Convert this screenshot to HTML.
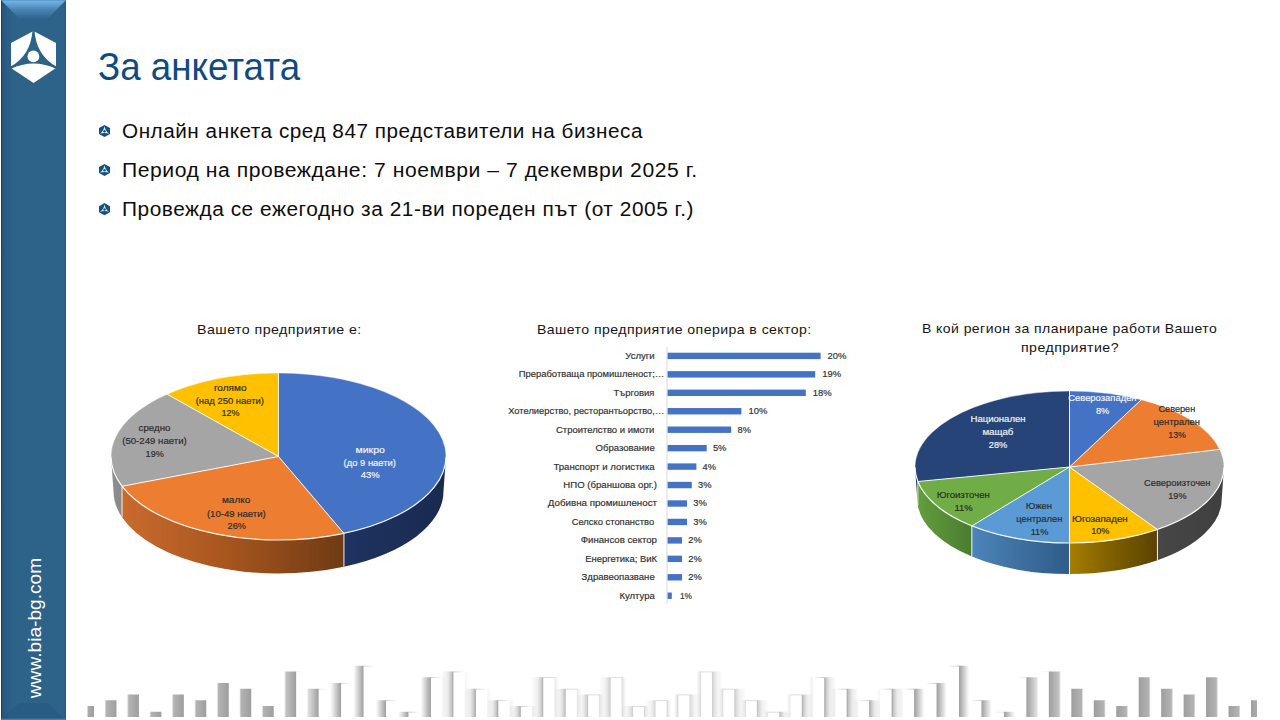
<!DOCTYPE html>
<html lang="bg"><head><meta charset="utf-8"><title>За анкетата</title>
<style>
html,body{margin:0;padding:0;background:#fff;}
body{width:1280px;height:720px;position:relative;overflow:hidden;font-family:"Liberation Sans", sans-serif;}
.side{position:absolute;left:1px;top:0;width:65px;height:720px;background:linear-gradient(to right,#25527a 0,#2a5c83 5px,#2d6289 13px,#2d6289 62px,#2a5e85 65px);}
.side .bev{position:absolute;left:0;top:0;width:65px;height:20px;}
.side .ledge{position:absolute;left:0;top:0;width:1.2px;height:720px;background:#1e4362;}
.side .redge{position:absolute;right:0;top:0;width:0.8px;height:720px;background:#27587f;}
.tx{position:absolute;margin:0;padding:0;font-weight:normal;line-height:1;white-space:nowrap;transform-origin:0 0;}
ul{list-style:none;margin:0;padding:0;}
</style></head>
<body>
<div class="side"><div class="ledge"></div><div class="redge"></div>
<svg class="bev" width="65" height="20" viewBox="0 0 65 20"><defs><linearGradient id="bv" x1="0" y1="0" x2="0" y2="1"><stop offset="0" stop-color="#4f8fc2"/><stop offset="0.06" stop-color="#72b2e4"/><stop offset="0.5" stop-color="#4a83b3"/><stop offset="1" stop-color="#2d6289"/></linearGradient></defs><polygon points="0,0 65,0 46,19.5 19,19.5" fill="url(#bv)"/></svg>
<svg style="position:absolute;left:0;top:700px" width="65" height="20" viewBox="0 0 65 20"><polygon points="0,20 65,20 47,3 18,3" fill="#1e4f78" opacity="0.28"/><rect x="0" y="18.6" width="65" height="1.4" fill="#5a92bd" opacity="0.7"/></svg>
<svg style="position:absolute;left:8px;top:28px" width="50" height="58" viewBox="0 0 50 58">
<polygon points="24.5,3 47,15 47,40 24.5,55 2,40 2,15" fill="#fff"/>
<path d="M23.6,2 L25.4,2 Q27.2,27.5 47.5,38.6 L47.5,41 Q24.5,30 1.5,41 L1.5,38.6 Q21.8,27.5 23.6,2 Z" fill="#2d6289"/>
<circle cx="24.4" cy="28.4" r="5.9" fill="#fff"/>
</svg>
</div>
<h1 id="ttl" class="tx" style="left:98.04px;top:48.26px;font-size:38.2px;letter-spacing:0px;color:#0f4b80;transform:scaleX(0.9618)">За анкетата</h1>
<ul><li id="b1" class="tx" style="left:121.94px;top:121.99px;font-size:19.5px;letter-spacing:0.5px;color:#0d0d0d;transform:scaleX(1.0619)">Онлайн анкета сред 847 представители на бизнеса</li>
<li id="b2" class="tx" style="left:121.92px;top:160.99px;font-size:19.5px;letter-spacing:0.5px;color:#0d0d0d;transform:scaleX(1.0834)">Период на провеждане: 7 ноември – 7 декември 2025 г.</li>
<li id="b3" class="tx" style="left:121.93px;top:199.99px;font-size:19.5px;letter-spacing:0.5px;color:#0d0d0d;transform:scaleX(1.0689)">Провежда се ежегодно за 21-ви пореден път (от 2005 г.)</li></ul>
<div id="c1" class="tx" style="left:196.96px;top:323.33px;font-size:13.2px;letter-spacing:0.4px;color:#151515;transform:scaleX(1.0795)">Вашето предприятие е:</div>
<div id="c2" class="tx" style="left:536.96px;top:323.33px;font-size:13.2px;letter-spacing:0.4px;color:#151515;transform:scaleX(1.0686)">Вашето предприятие оперира в сектор:</div>
<div id="c3a" class="tx" style="left:921.98px;top:322.23px;font-size:13.2px;letter-spacing:0.4px;color:#151515;transform:scaleX(1.0638)">В кой регион за планиране работи Вашето</div>
<div id="c3b" class="tx" style="left:1020.96px;top:341.33px;font-size:13.2px;letter-spacing:0.4px;color:#151515;transform:scaleX(1.0756)">предприятие?</div>
<svg width="1280" height="720" viewBox="0 0 1280 720" style="position:absolute;left:0;top:0" font-family='"Liberation Sans", sans-serif'>
<defs>
<linearGradient id="p1s0" gradientUnits="userSpaceOnUse" x1="344" y1="0" x2="446" y2="0"><stop offset="0" stop-color="#1f3361"/><stop offset="1" stop-color="#192a4f"/></linearGradient>
<linearGradient id="p1s1" gradientUnits="userSpaceOnUse" x1="122" y1="0" x2="344" y2="0"><stop offset="0" stop-color="#c96a2e"/><stop offset="0.45" stop-color="#a9571f"/><stop offset="1" stop-color="#6f3a13"/></linearGradient>
<linearGradient id="p1s2" gradientUnits="userSpaceOnUse" x1="111" y1="0" x2="122" y2="0"><stop offset="0" stop-color="#8f8f8f"/><stop offset="1" stop-color="#898989"/></linearGradient>
<linearGradient id="p2s2" gradientUnits="userSpaceOnUse" x1="1157" y1="0" x2="1224" y2="0"><stop offset="0" stop-color="#474747"/><stop offset="1" stop-color="#3f3f3f"/></linearGradient>
<linearGradient id="p2s3" gradientUnits="userSpaceOnUse" x1="1069" y1="0" x2="1157" y2="0"><stop offset="0" stop-color="#a67e00"/><stop offset="0.5" stop-color="#7d5e00"/><stop offset="1" stop-color="#5a4300"/></linearGradient>
<linearGradient id="p2s4" gradientUnits="userSpaceOnUse" x1="972" y1="0" x2="1069" y2="0"><stop offset="0" stop-color="#4c84ba"/><stop offset="0.5" stop-color="#3d6f9f"/><stop offset="1" stop-color="#2f5c88"/></linearGradient>
<linearGradient id="p2s5" gradientUnits="userSpaceOnUse" x1="915" y1="0" x2="972" y2="0"><stop offset="0" stop-color="#639f3e"/><stop offset="1" stop-color="#4a7c2e"/></linearGradient>
<linearGradient id="p2s6" gradientUnits="userSpaceOnUse" x1="910" y1="0" x2="920" y2="0"><stop offset="0" stop-color="#1b2f55"/><stop offset="1" stop-color="#1b2f55"/></linearGradient>
<linearGradient id="sk0" x1="0" x2="1" y1="0" y2="0"><stop offset="0" stop-color="#9e9e9e" stop-opacity="0.85"/><stop offset="1" stop-color="#9e9e9e" stop-opacity="1.00"/></linearGradient>
<linearGradient id="sk1" x1="0" x2="1" y1="0" y2="0"><stop offset="0" stop-color="#9e9e9e" stop-opacity="0.00"/><stop offset="0.15" stop-color="#9e9e9e" stop-opacity="0.78"/><stop offset="1" stop-color="#9e9e9e" stop-opacity="1.00"/></linearGradient>
<linearGradient id="sk2" x1="0" x2="1" y1="0" y2="0"><stop offset="0" stop-color="#9e9e9e" stop-opacity="0.00"/><stop offset="0.15" stop-color="#9e9e9e" stop-opacity="0.78"/><stop offset="1" stop-color="#9e9e9e" stop-opacity="1.00"/></linearGradient>
<linearGradient id="sk3" x1="0" x2="1" y1="0" y2="0"><stop offset="0" stop-color="#9e9e9e" stop-opacity="0.00"/><stop offset="0.15" stop-color="#9e9e9e" stop-opacity="0.78"/><stop offset="1" stop-color="#9e9e9e" stop-opacity="1.00"/></linearGradient>
<linearGradient id="sk4" x1="0" x2="1" y1="0" y2="0"><stop offset="0" stop-color="#9e9e9e" stop-opacity="0.00"/><stop offset="0.15" stop-color="#9e9e9e" stop-opacity="0.78"/><stop offset="1" stop-color="#9e9e9e" stop-opacity="1.00"/></linearGradient>
<linearGradient id="sk5" x1="0" x2="1" y1="0" y2="0"><stop offset="0" stop-color="#9e9e9e" stop-opacity="0.00"/><stop offset="0.15" stop-color="#9e9e9e" stop-opacity="0.78"/><stop offset="1" stop-color="#9e9e9e" stop-opacity="1.00"/></linearGradient>
<linearGradient id="sk6" x1="0" x2="1" y1="0" y2="0"><stop offset="0" stop-color="#9e9e9e" stop-opacity="0.00"/><stop offset="0.15" stop-color="#9e9e9e" stop-opacity="0.78"/><stop offset="1" stop-color="#9e9e9e" stop-opacity="1.00"/></linearGradient>
<linearGradient id="sk7" x1="0" x2="1" y1="0" y2="0"><stop offset="0" stop-color="#9e9e9e" stop-opacity="0.00"/><stop offset="0.15" stop-color="#9e9e9e" stop-opacity="0.78"/><stop offset="1" stop-color="#9e9e9e" stop-opacity="1.00"/></linearGradient>
<linearGradient id="sk8" x1="0" x2="1" y1="0" y2="0"><stop offset="0" stop-color="#9e9e9e" stop-opacity="0.00"/><stop offset="0.15" stop-color="#9e9e9e" stop-opacity="0.78"/><stop offset="1" stop-color="#9e9e9e" stop-opacity="1.00"/></linearGradient>
<linearGradient id="sk9" x1="0" x2="1" y1="0" y2="0"><stop offset="0" stop-color="#9e9e9e" stop-opacity="0.00"/><stop offset="0.15" stop-color="#9e9e9e" stop-opacity="0.62"/><stop offset="1" stop-color="#9e9e9e" stop-opacity="1.00"/></linearGradient>
<linearGradient id="sk10" x1="0" x2="1" y1="0" y2="0"><stop offset="0" stop-color="#9e9e9e" stop-opacity="0.00"/><stop offset="0.15" stop-color="#9e9e9e" stop-opacity="0.34"/><stop offset="1" stop-color="#9e9e9e" stop-opacity="1.00"/></linearGradient>
<linearGradient id="sk11" x1="0" x2="1" y1="0" y2="0"><stop offset="0" stop-color="#9e9e9e" stop-opacity="0.00"/><stop offset="0.15" stop-color="#9e9e9e" stop-opacity="0.06"/><stop offset="1" stop-color="#9e9e9e" stop-opacity="1.00"/></linearGradient>
<linearGradient id="sk12" x1="0" x2="1" y1="0" y2="0"><stop offset="0" stop-color="#9e9e9e" stop-opacity="0.00"/><stop offset="0.15" stop-color="#9e9e9e" stop-opacity="0.00"/><stop offset="1" stop-color="#9e9e9e" stop-opacity="1.00"/></linearGradient>
<linearGradient id="sk13" x1="0" x2="1" y1="0" y2="0"><stop offset="0" stop-color="#9e9e9e" stop-opacity="0.00"/><stop offset="0.15" stop-color="#9e9e9e" stop-opacity="0.00"/><stop offset="1" stop-color="#9e9e9e" stop-opacity="1.00"/></linearGradient>
<linearGradient id="sk14" x1="0" x2="1" y1="0" y2="0"><stop offset="0" stop-color="#9e9e9e" stop-opacity="0.00"/><stop offset="0.15" stop-color="#9e9e9e" stop-opacity="0.00"/><stop offset="1" stop-color="#9e9e9e" stop-opacity="1.00"/></linearGradient>
<linearGradient id="sk15" x1="0" x2="1" y1="0" y2="0"><stop offset="0" stop-color="#9e9e9e" stop-opacity="0.00"/><stop offset="0.15" stop-color="#9e9e9e" stop-opacity="0.00"/><stop offset="1" stop-color="#9e9e9e" stop-opacity="1.00"/></linearGradient>
<linearGradient id="sk16" x1="0" x2="1" y1="0" y2="0"><stop offset="0" stop-color="#9e9e9e" stop-opacity="0.00"/><stop offset="0.55" stop-color="#9e9e9e" stop-opacity="0.22"/><stop offset="0.85" stop-color="#9e9e9e" stop-opacity="0.60"/><stop offset="1" stop-color="#9e9e9e" stop-opacity="1.00"/></linearGradient>
<linearGradient id="sk17" x1="0" x2="1" y1="0" y2="0"><stop offset="0" stop-color="#9e9e9e" stop-opacity="0.00"/><stop offset="0.55" stop-color="#9e9e9e" stop-opacity="0.22"/><stop offset="0.85" stop-color="#9e9e9e" stop-opacity="0.60"/><stop offset="1" stop-color="#9e9e9e" stop-opacity="1.00"/></linearGradient>
<linearGradient id="sk18" x1="0" x2="1" y1="0" y2="0"><stop offset="0" stop-color="#9e9e9e" stop-opacity="0.00"/><stop offset="0.55" stop-color="#9e9e9e" stop-opacity="0.22"/><stop offset="0.85" stop-color="#9e9e9e" stop-opacity="0.60"/><stop offset="1" stop-color="#9e9e9e" stop-opacity="1.00"/></linearGradient>
<linearGradient id="sk19" x1="0" x2="1" y1="0" y2="0"><stop offset="0" stop-color="#9e9e9e" stop-opacity="0.00"/><stop offset="0.55" stop-color="#9e9e9e" stop-opacity="0.21"/><stop offset="0.85" stop-color="#9e9e9e" stop-opacity="0.57"/><stop offset="1" stop-color="#9e9e9e" stop-opacity="0.95"/></linearGradient>
<linearGradient id="sk20" x1="0" x2="1" y1="0" y2="0"><stop offset="0" stop-color="#9e9e9e" stop-opacity="0.00"/><stop offset="0.55" stop-color="#9e9e9e" stop-opacity="0.19"/><stop offset="0.85" stop-color="#9e9e9e" stop-opacity="0.52"/><stop offset="1" stop-color="#9e9e9e" stop-opacity="0.87"/></linearGradient>
<linearGradient id="sk21" x1="0" x2="1" y1="0" y2="0"><stop offset="0" stop-color="#9e9e9e" stop-opacity="0.00"/><stop offset="0.55" stop-color="#9e9e9e" stop-opacity="0.17"/><stop offset="0.85" stop-color="#9e9e9e" stop-opacity="0.47"/><stop offset="1" stop-color="#9e9e9e" stop-opacity="0.79"/></linearGradient>
<linearGradient id="sk22" x1="0" x2="1" y1="0" y2="0"><stop offset="0" stop-color="#9e9e9e" stop-opacity="0.00"/><stop offset="0.55" stop-color="#9e9e9e" stop-opacity="0.15"/><stop offset="0.85" stop-color="#9e9e9e" stop-opacity="0.42"/><stop offset="1" stop-color="#9e9e9e" stop-opacity="0.70"/></linearGradient>
<linearGradient id="sk23" x1="0" x2="1" y1="0" y2="0"><stop offset="0" stop-color="#9e9e9e" stop-opacity="0.00"/><stop offset="0.55" stop-color="#9e9e9e" stop-opacity="0.14"/><stop offset="0.85" stop-color="#9e9e9e" stop-opacity="0.37"/><stop offset="1" stop-color="#9e9e9e" stop-opacity="0.62"/></linearGradient>
<linearGradient id="sk24" x1="0" x2="1" y1="0" y2="0"><stop offset="0" stop-color="#9e9e9e" stop-opacity="0.00"/><stop offset="0.55" stop-color="#9e9e9e" stop-opacity="0.12"/><stop offset="0.85" stop-color="#9e9e9e" stop-opacity="0.33"/><stop offset="1" stop-color="#9e9e9e" stop-opacity="0.54"/></linearGradient>
<linearGradient id="sk25" x1="0" x2="1" y1="0" y2="0"><stop offset="0" stop-color="#9e9e9e" stop-opacity="0.00"/><stop offset="0.55" stop-color="#9e9e9e" stop-opacity="0.10"/><stop offset="0.85" stop-color="#9e9e9e" stop-opacity="0.28"/><stop offset="1" stop-color="#9e9e9e" stop-opacity="0.46"/></linearGradient>
<linearGradient id="sk26" x1="0" x2="1" y1="0" y2="0"><stop offset="0" stop-color="#9e9e9e" stop-opacity="0.46"/><stop offset="0.15" stop-color="#9e9e9e" stop-opacity="0.28"/><stop offset="0.45" stop-color="#9e9e9e" stop-opacity="0.10"/><stop offset="1" stop-color="#9e9e9e" stop-opacity="0.00"/></linearGradient>
<linearGradient id="sk27" x1="0" x2="1" y1="0" y2="0"><stop offset="0" stop-color="#9e9e9e" stop-opacity="0.54"/><stop offset="0.15" stop-color="#9e9e9e" stop-opacity="0.33"/><stop offset="0.45" stop-color="#9e9e9e" stop-opacity="0.12"/><stop offset="1" stop-color="#9e9e9e" stop-opacity="0.00"/></linearGradient>
<linearGradient id="sk28" x1="0" x2="1" y1="0" y2="0"><stop offset="0" stop-color="#9e9e9e" stop-opacity="0.62"/><stop offset="0.15" stop-color="#9e9e9e" stop-opacity="0.37"/><stop offset="0.45" stop-color="#9e9e9e" stop-opacity="0.14"/><stop offset="1" stop-color="#9e9e9e" stop-opacity="0.00"/></linearGradient>
<linearGradient id="sk29" x1="0" x2="1" y1="0" y2="0"><stop offset="0" stop-color="#9e9e9e" stop-opacity="0.70"/><stop offset="0.15" stop-color="#9e9e9e" stop-opacity="0.42"/><stop offset="0.45" stop-color="#9e9e9e" stop-opacity="0.15"/><stop offset="1" stop-color="#9e9e9e" stop-opacity="0.00"/></linearGradient>
<linearGradient id="sk30" x1="0" x2="1" y1="0" y2="0"><stop offset="0" stop-color="#9e9e9e" stop-opacity="0.79"/><stop offset="0.15" stop-color="#9e9e9e" stop-opacity="0.47"/><stop offset="0.45" stop-color="#9e9e9e" stop-opacity="0.17"/><stop offset="1" stop-color="#9e9e9e" stop-opacity="0.00"/></linearGradient>
<linearGradient id="sk31" x1="0" x2="1" y1="0" y2="0"><stop offset="0" stop-color="#9e9e9e" stop-opacity="0.87"/><stop offset="0.15" stop-color="#9e9e9e" stop-opacity="0.52"/><stop offset="0.45" stop-color="#9e9e9e" stop-opacity="0.19"/><stop offset="1" stop-color="#9e9e9e" stop-opacity="0.00"/></linearGradient>
<linearGradient id="sk32" x1="0" x2="1" y1="0" y2="0"><stop offset="0" stop-color="#9e9e9e" stop-opacity="0.95"/><stop offset="0.15" stop-color="#9e9e9e" stop-opacity="0.57"/><stop offset="0.45" stop-color="#9e9e9e" stop-opacity="0.21"/><stop offset="1" stop-color="#9e9e9e" stop-opacity="0.00"/></linearGradient>
<linearGradient id="sk33" x1="0" x2="1" y1="0" y2="0"><stop offset="0" stop-color="#9e9e9e" stop-opacity="1.00"/><stop offset="0.15" stop-color="#9e9e9e" stop-opacity="0.60"/><stop offset="0.45" stop-color="#9e9e9e" stop-opacity="0.22"/><stop offset="1" stop-color="#9e9e9e" stop-opacity="0.00"/></linearGradient>
<linearGradient id="sk34" x1="0" x2="1" y1="0" y2="0"><stop offset="0" stop-color="#9e9e9e" stop-opacity="1.00"/><stop offset="0.15" stop-color="#9e9e9e" stop-opacity="0.60"/><stop offset="0.45" stop-color="#9e9e9e" stop-opacity="0.22"/><stop offset="1" stop-color="#9e9e9e" stop-opacity="0.00"/></linearGradient>
<linearGradient id="sk35" x1="0" x2="1" y1="0" y2="0"><stop offset="0" stop-color="#9e9e9e" stop-opacity="1.00"/><stop offset="0.15" stop-color="#9e9e9e" stop-opacity="0.60"/><stop offset="0.45" stop-color="#9e9e9e" stop-opacity="0.22"/><stop offset="1" stop-color="#9e9e9e" stop-opacity="0.00"/></linearGradient>
<linearGradient id="sk36" x1="0" x2="1" y1="0" y2="0"><stop offset="0" stop-color="#9e9e9e" stop-opacity="1.00"/><stop offset="0.85" stop-color="#9e9e9e" stop-opacity="0.00"/><stop offset="1" stop-color="#9e9e9e" stop-opacity="0.00"/></linearGradient>
<linearGradient id="sk37" x1="0" x2="1" y1="0" y2="0"><stop offset="0" stop-color="#9e9e9e" stop-opacity="1.00"/><stop offset="0.85" stop-color="#9e9e9e" stop-opacity="0.00"/><stop offset="1" stop-color="#9e9e9e" stop-opacity="0.00"/></linearGradient>
<linearGradient id="sk38" x1="0" x2="1" y1="0" y2="0"><stop offset="0" stop-color="#9e9e9e" stop-opacity="1.00"/><stop offset="0.85" stop-color="#9e9e9e" stop-opacity="0.00"/><stop offset="1" stop-color="#9e9e9e" stop-opacity="0.00"/></linearGradient>
<linearGradient id="sk39" x1="0" x2="1" y1="0" y2="0"><stop offset="0" stop-color="#9e9e9e" stop-opacity="1.00"/><stop offset="0.85" stop-color="#9e9e9e" stop-opacity="0.00"/><stop offset="1" stop-color="#9e9e9e" stop-opacity="0.00"/></linearGradient>
<linearGradient id="sk40" x1="0" x2="1" y1="0" y2="0"><stop offset="0" stop-color="#9e9e9e" stop-opacity="1.00"/><stop offset="0.85" stop-color="#9e9e9e" stop-opacity="0.06"/><stop offset="1" stop-color="#9e9e9e" stop-opacity="0.00"/></linearGradient>
<linearGradient id="sk41" x1="0" x2="1" y1="0" y2="0"><stop offset="0" stop-color="#9e9e9e" stop-opacity="1.00"/><stop offset="0.85" stop-color="#9e9e9e" stop-opacity="0.34"/><stop offset="1" stop-color="#9e9e9e" stop-opacity="0.00"/></linearGradient>
<linearGradient id="sk42" x1="0" x2="1" y1="0" y2="0"><stop offset="0" stop-color="#9e9e9e" stop-opacity="1.00"/><stop offset="0.85" stop-color="#9e9e9e" stop-opacity="0.62"/><stop offset="1" stop-color="#9e9e9e" stop-opacity="0.00"/></linearGradient>
<linearGradient id="sk43" x1="0" x2="1" y1="0" y2="0"><stop offset="0" stop-color="#9e9e9e" stop-opacity="1.00"/><stop offset="0.85" stop-color="#9e9e9e" stop-opacity="0.78"/><stop offset="1" stop-color="#9e9e9e" stop-opacity="0.00"/></linearGradient>
<linearGradient id="sk44" x1="0" x2="1" y1="0" y2="0"><stop offset="0" stop-color="#9e9e9e" stop-opacity="1.00"/><stop offset="0.85" stop-color="#9e9e9e" stop-opacity="0.78"/><stop offset="1" stop-color="#9e9e9e" stop-opacity="0.00"/></linearGradient>
<linearGradient id="sk45" x1="0" x2="1" y1="0" y2="0"><stop offset="0" stop-color="#9e9e9e" stop-opacity="1.00"/><stop offset="0.85" stop-color="#9e9e9e" stop-opacity="0.78"/><stop offset="1" stop-color="#9e9e9e" stop-opacity="0.00"/></linearGradient>
<linearGradient id="sk46" x1="0" x2="1" y1="0" y2="0"><stop offset="0" stop-color="#9e9e9e" stop-opacity="1.00"/><stop offset="0.85" stop-color="#9e9e9e" stop-opacity="0.78"/><stop offset="1" stop-color="#9e9e9e" stop-opacity="0.00"/></linearGradient>
<linearGradient id="sk47" x1="0" x2="1" y1="0" y2="0"><stop offset="0" stop-color="#9e9e9e" stop-opacity="1.00"/><stop offset="0.85" stop-color="#9e9e9e" stop-opacity="0.78"/><stop offset="1" stop-color="#9e9e9e" stop-opacity="0.00"/></linearGradient>
<linearGradient id="sk48" x1="0" x2="1" y1="0" y2="0"><stop offset="0" stop-color="#9e9e9e" stop-opacity="1.00"/><stop offset="0.85" stop-color="#9e9e9e" stop-opacity="0.78"/><stop offset="1" stop-color="#9e9e9e" stop-opacity="0.00"/></linearGradient>
<linearGradient id="sk49" x1="0" x2="1" y1="0" y2="0"><stop offset="0" stop-color="#9e9e9e" stop-opacity="1.00"/><stop offset="0.85" stop-color="#9e9e9e" stop-opacity="0.78"/><stop offset="1" stop-color="#9e9e9e" stop-opacity="0.00"/></linearGradient>
<linearGradient id="sk50" x1="0" x2="1" y1="0" y2="0"><stop offset="0" stop-color="#9e9e9e" stop-opacity="1.00"/><stop offset="0.85" stop-color="#9e9e9e" stop-opacity="0.78"/><stop offset="1" stop-color="#9e9e9e" stop-opacity="0.00"/></linearGradient>
<linearGradient id="sk51" x1="0" x2="1" y1="0" y2="0"><stop offset="0" stop-color="#9e9e9e" stop-opacity="1.00"/><stop offset="1" stop-color="#9e9e9e" stop-opacity="0.85"/></linearGradient>
<linearGradient id="sktl" x1="0" x2="1" y1="0" y2="0"><stop offset="0" stop-color="#b4b4b4" stop-opacity="1"/><stop offset="1" stop-color="#b4b4b4" stop-opacity="0"/></linearGradient>
<linearGradient id="sktr" x1="1" x2="0" y1="0" y2="0"><stop offset="0" stop-color="#b4b4b4" stop-opacity="1"/><stop offset="1" stop-color="#b4b4b4" stop-opacity="0"/></linearGradient>
<linearGradient id="skfr" x1="0" x2="1" y1="0" y2="0"><stop offset="0" stop-color="#9e9e9e" stop-opacity="1"/><stop offset="1" stop-color="#9e9e9e" stop-opacity="0"/></linearGradient>
<linearGradient id="skfl" x1="1" x2="0" y1="0" y2="0"><stop offset="0" stop-color="#9e9e9e" stop-opacity="1"/><stop offset="1" stop-color="#9e9e9e" stop-opacity="0"/></linearGradient>
</defs>
<g>
<rect x="87.50" y="706.00" width="6.50" height="11.00" fill="url(#sk0)"/>
<rect x="104.46" y="700.25" width="12.00" height="16.75" fill="url(#sk1)"/>
<rect x="126.92" y="694.50" width="12.00" height="22.50" fill="url(#sk2)"/>
<rect x="149.38" y="711.75" width="12.00" height="5.25" fill="url(#sk3)"/>
<rect x="171.84" y="694.50" width="12.00" height="22.50" fill="url(#sk4)"/>
<rect x="194.30" y="700.25" width="12.00" height="16.75" fill="url(#sk5)"/>
<rect x="216.76" y="683.00" width="12.00" height="34.00" fill="url(#sk6)"/>
<rect x="239.23" y="688.75" width="12.00" height="28.25" fill="url(#sk7)"/>
<rect x="261.69" y="706.00" width="12.00" height="11.00" fill="url(#sk8)"/>
<rect x="273.69" y="706.00" width="11.5" height="0.8" fill="url(#sktl)" opacity="0.06"/>
<rect x="284.15" y="671.50" width="12.00" height="45.50" fill="url(#sk9)"/>
<rect x="296.15" y="671.50" width="11.5" height="0.8" fill="url(#sktl)" opacity="0.24"/>
<rect x="306.61" y="688.75" width="12.00" height="28.25" fill="url(#sk10)"/>
<rect x="318.61" y="688.75" width="11.5" height="0.8" fill="url(#sktl)" opacity="0.41"/>
<rect x="329.07" y="683.00" width="12.00" height="34.00" fill="url(#sk11)"/>
<rect x="341.07" y="683.00" width="11.5" height="0.8" fill="url(#sktl)" opacity="0.59"/>
<rect x="351.53" y="665.75" width="12.00" height="51.25" fill="url(#sk12)"/>
<rect x="363.53" y="665.75" width="11.5" height="0.8" fill="url(#sktl)" opacity="0.77"/>
<rect x="373.99" y="700.25" width="12.00" height="16.75" fill="url(#sk13)"/>
<rect x="385.99" y="700.25" width="11.5" height="0.8" fill="url(#sktl)" opacity="0.90"/>
<rect x="396.45" y="711.75" width="12.00" height="5.25" fill="url(#sk14)"/>
<rect x="408.45" y="711.75" width="11.5" height="0.8" fill="url(#sktl)" opacity="0.90"/>
<rect x="418.91" y="677.25" width="12.00" height="39.75" fill="url(#sk15)"/>
<rect x="442.41" y="677.25" width="4" height="39.75" fill="url(#skfr)" opacity="0.08"/>
<rect x="430.91" y="677.25" width="11.5" height="0.8" fill="url(#sktl)" opacity="0.90"/>
<rect x="441.37" y="671.50" width="12.00" height="45.50" fill="url(#sk16)"/>
<rect x="464.87" y="671.50" width="4" height="45.50" fill="url(#skfr)" opacity="0.11"/>
<rect x="453.37" y="671.50" width="11.5" height="0.8" fill="url(#sktl)" opacity="0.90"/>
<rect x="463.83" y="688.75" width="12.00" height="28.25" fill="url(#sk17)"/>
<rect x="487.33" y="688.75" width="4" height="28.25" fill="url(#skfr)" opacity="0.13"/>
<rect x="475.83" y="688.75" width="11.5" height="0.8" fill="url(#sktl)" opacity="0.90"/>
<rect x="486.29" y="700.25" width="12.00" height="16.75" fill="url(#sk18)"/>
<rect x="509.79" y="700.25" width="4" height="16.75" fill="url(#skfr)" opacity="0.16"/>
<rect x="498.29" y="700.25" width="11.5" height="0.8" fill="url(#sktl)" opacity="0.90"/>
<rect x="508.75" y="706.00" width="12.00" height="11.00" fill="url(#sk19)"/>
<rect x="532.25" y="706.00" width="4" height="11.00" fill="url(#skfr)" opacity="0.18"/>
<rect x="520.75" y="706.00" width="11.5" height="0.8" fill="url(#sktl)" opacity="0.90"/>
<rect x="531.22" y="677.25" width="12.00" height="39.75" fill="url(#sk20)"/>
<rect x="554.72" y="677.25" width="4" height="39.75" fill="url(#skfr)" opacity="0.21"/>
<rect x="543.22" y="677.25" width="11.5" height="0.8" fill="#cdcdcd" opacity="0.85"/>
<rect x="554.37" y="677.25" width="0.7" height="39.75" fill="#d2d2d2" opacity="0.23"/>
<rect x="553.68" y="688.75" width="12.00" height="28.25" fill="url(#sk21)"/>
<rect x="577.18" y="688.75" width="4" height="28.25" fill="url(#skfr)" opacity="0.23"/>
<rect x="565.68" y="688.75" width="11.5" height="0.8" fill="#cdcdcd" opacity="0.85"/>
<rect x="576.83" y="688.75" width="0.7" height="28.25" fill="#d2d2d2" opacity="0.49"/>
<rect x="576.14" y="694.50" width="12.00" height="22.50" fill="url(#sk22)"/>
<rect x="599.64" y="694.50" width="4" height="22.50" fill="url(#skfr)" opacity="0.25"/>
<rect x="588.14" y="694.50" width="11.5" height="0.8" fill="#cdcdcd" opacity="0.85"/>
<rect x="599.29" y="694.50" width="0.7" height="22.50" fill="#d2d2d2" opacity="0.75"/>
<rect x="598.60" y="677.25" width="12.00" height="39.75" fill="url(#sk23)"/>
<rect x="622.10" y="677.25" width="4" height="39.75" fill="url(#skfr)" opacity="0.28"/>
<rect x="610.60" y="677.25" width="11.5" height="0.8" fill="#cdcdcd" opacity="0.85"/>
<rect x="621.75" y="677.25" width="0.7" height="39.75" fill="#d2d2d2" opacity="1.00"/>
<rect x="621.06" y="706.00" width="12.00" height="11.00" fill="url(#sk24)"/>
<rect x="644.56" y="706.00" width="4" height="11.00" fill="url(#skfr)" opacity="0.30"/>
<rect x="633.06" y="706.00" width="11.5" height="0.8" fill="#cdcdcd" opacity="0.85"/>
<rect x="644.21" y="706.00" width="0.7" height="11.00" fill="#d2d2d2" opacity="1.00"/>
<rect x="643.52" y="700.25" width="12.00" height="16.75" fill="url(#sk25)"/>
<rect x="667.02" y="700.25" width="4" height="16.75" fill="url(#skfr)" opacity="0.33"/>
<rect x="655.52" y="700.25" width="11.5" height="0.8" fill="#cdcdcd" opacity="0.85"/>
<rect x="666.67" y="700.25" width="0.7" height="16.75" fill="#d2d2d2" opacity="1.00"/>
<rect x="689.48" y="694.50" width="12.00" height="22.50" fill="url(#sk26)"/>
<rect x="673.98" y="694.50" width="4" height="22.50" fill="url(#skfl)" opacity="0.33"/>
<rect x="677.98" y="694.50" width="11.5" height="0.8" fill="#cdcdcd" opacity="0.85"/>
<rect x="677.63" y="694.50" width="0.7" height="22.50" fill="#d2d2d2" opacity="1.00"/>
<rect x="711.94" y="671.50" width="12.00" height="45.50" fill="url(#sk27)"/>
<rect x="696.44" y="671.50" width="4" height="45.50" fill="url(#skfl)" opacity="0.30"/>
<rect x="700.44" y="671.50" width="11.5" height="0.8" fill="#cdcdcd" opacity="0.85"/>
<rect x="700.09" y="671.50" width="0.7" height="45.50" fill="#d2d2d2" opacity="1.00"/>
<rect x="734.40" y="688.75" width="12.00" height="28.25" fill="url(#sk28)"/>
<rect x="718.90" y="688.75" width="4" height="28.25" fill="url(#skfl)" opacity="0.28"/>
<rect x="722.90" y="688.75" width="11.5" height="0.8" fill="#cdcdcd" opacity="0.85"/>
<rect x="722.55" y="688.75" width="0.7" height="28.25" fill="#d2d2d2" opacity="1.00"/>
<rect x="756.86" y="700.25" width="12.00" height="16.75" fill="url(#sk29)"/>
<rect x="741.36" y="700.25" width="4" height="16.75" fill="url(#skfl)" opacity="0.25"/>
<rect x="745.36" y="700.25" width="11.5" height="0.8" fill="#cdcdcd" opacity="0.85"/>
<rect x="745.01" y="700.25" width="0.7" height="16.75" fill="#d2d2d2" opacity="0.75"/>
<rect x="779.32" y="711.75" width="12.00" height="5.25" fill="url(#sk30)"/>
<rect x="763.82" y="711.75" width="4" height="5.25" fill="url(#skfl)" opacity="0.23"/>
<rect x="767.82" y="711.75" width="11.5" height="0.8" fill="#cdcdcd" opacity="0.85"/>
<rect x="767.47" y="711.75" width="0.7" height="5.25" fill="#d2d2d2" opacity="0.49"/>
<rect x="801.78" y="694.50" width="12.00" height="22.50" fill="url(#sk31)"/>
<rect x="786.28" y="694.50" width="4" height="22.50" fill="url(#skfl)" opacity="0.21"/>
<rect x="790.28" y="694.50" width="11.5" height="0.8" fill="#cdcdcd" opacity="0.85"/>
<rect x="789.93" y="694.50" width="0.7" height="22.50" fill="#d2d2d2" opacity="0.23"/>
<rect x="824.25" y="677.25" width="12.00" height="39.75" fill="url(#sk32)"/>
<rect x="808.75" y="677.25" width="4" height="39.75" fill="url(#skfl)" opacity="0.18"/>
<rect x="812.75" y="677.25" width="11.5" height="0.8" fill="url(#sktr)" opacity="0.90"/>
<rect x="846.71" y="688.75" width="12.00" height="28.25" fill="url(#sk33)"/>
<rect x="831.21" y="688.75" width="4" height="28.25" fill="url(#skfl)" opacity="0.16"/>
<rect x="835.21" y="688.75" width="11.5" height="0.8" fill="url(#sktr)" opacity="0.90"/>
<rect x="869.17" y="700.25" width="12.00" height="16.75" fill="url(#sk34)"/>
<rect x="853.67" y="700.25" width="4" height="16.75" fill="url(#skfl)" opacity="0.13"/>
<rect x="857.67" y="700.25" width="11.5" height="0.8" fill="url(#sktr)" opacity="0.90"/>
<rect x="891.63" y="688.75" width="12.00" height="28.25" fill="url(#sk35)"/>
<rect x="876.13" y="688.75" width="4" height="28.25" fill="url(#skfl)" opacity="0.11"/>
<rect x="880.13" y="688.75" width="11.5" height="0.8" fill="url(#sktr)" opacity="0.90"/>
<rect x="914.09" y="688.75" width="12.00" height="28.25" fill="url(#sk36)"/>
<rect x="898.59" y="688.75" width="4" height="28.25" fill="url(#skfl)" opacity="0.08"/>
<rect x="902.59" y="688.75" width="11.5" height="0.8" fill="url(#sktr)" opacity="0.90"/>
<rect x="936.55" y="683.00" width="12.00" height="34.00" fill="url(#sk37)"/>
<rect x="925.05" y="683.00" width="11.5" height="0.8" fill="url(#sktr)" opacity="0.90"/>
<rect x="959.01" y="665.75" width="12.00" height="51.25" fill="url(#sk38)"/>
<rect x="947.51" y="665.75" width="11.5" height="0.8" fill="url(#sktr)" opacity="0.90"/>
<rect x="981.47" y="700.25" width="12.00" height="16.75" fill="url(#sk39)"/>
<rect x="969.97" y="700.25" width="11.5" height="0.8" fill="url(#sktr)" opacity="0.77"/>
<rect x="1003.93" y="711.75" width="12.00" height="5.25" fill="url(#sk40)"/>
<rect x="992.43" y="711.75" width="11.5" height="0.8" fill="url(#sktr)" opacity="0.59"/>
<rect x="1026.39" y="677.25" width="12.00" height="39.75" fill="url(#sk41)"/>
<rect x="1014.89" y="677.25" width="11.5" height="0.8" fill="url(#sktr)" opacity="0.41"/>
<rect x="1048.85" y="671.50" width="12.00" height="45.50" fill="url(#sk42)"/>
<rect x="1037.35" y="671.50" width="11.5" height="0.8" fill="url(#sktr)" opacity="0.24"/>
<rect x="1071.31" y="688.75" width="12.00" height="28.25" fill="url(#sk43)"/>
<rect x="1059.81" y="688.75" width="11.5" height="0.8" fill="url(#sktr)" opacity="0.06"/>
<rect x="1093.77" y="700.25" width="12.00" height="16.75" fill="url(#sk44)"/>
<rect x="1116.24" y="706.00" width="12.00" height="11.00" fill="url(#sk45)"/>
<rect x="1138.70" y="677.25" width="12.00" height="39.75" fill="url(#sk46)"/>
<rect x="1161.16" y="688.75" width="12.00" height="28.25" fill="url(#sk47)"/>
<rect x="1183.62" y="694.50" width="12.00" height="22.50" fill="url(#sk48)"/>
<rect x="1206.08" y="677.25" width="12.00" height="39.75" fill="url(#sk49)"/>
<rect x="1228.54" y="706.00" width="12.00" height="11.00" fill="url(#sk50)"/>
<rect x="1251.00" y="700.25" width="6.00" height="16.75" fill="url(#sk51)"/>
</g>
<path d="M446.00,456.50 A167.5,83.5 0 0 1 343.95,533.36 L343.95,566.75 A164.99,82.25 0 0 0 443.49,491.25 Z" fill="url(#p1s0)"/>
<path d="M343.95,533.36 A167.5,83.5 0 0 1 122.02,486.29 L122.02,517.32 A164.99,82.25 0 0 0 343.95,566.75 Z" fill="url(#p1s1)"/>
<path d="M122.02,486.29 A167.5,83.5 0 0 1 111.00,456.50 L113.51,491.25 A164.99,82.25 0 0 0 122.02,517.32 Z" fill="url(#p1s2)"/>
<path d="M278.5,456.5 L278.50,373.00 A167.5,83.5 0 0 1 343.95,533.36 Z" fill="#4472c4"/>
<path d="M278.5,456.5 L343.95,533.36 A167.5,83.5 0 0 1 122.02,486.29 Z" fill="#ed7d31"/>
<path d="M278.5,456.5 L122.02,486.29 A167.5,83.5 0 0 1 167.07,394.16 Z" fill="#a5a5a5"/>
<path d="M278.5,456.5 L167.07,394.16 A167.5,83.5 0 0 1 278.50,373.00 Z" fill="#ffc000"/>
<line x1="278.5" y1="456.5" x2="278.50" y2="373.00" stroke="#fff" stroke-width="0.9"/>
<line x1="278.5" y1="456.5" x2="343.95" y2="533.36" stroke="#fff" stroke-width="0.9"/>
<line x1="343.95" y1="533.36" x2="343.95" y2="566.75" stroke="#fff" stroke-width="0.9"/>
<line x1="278.5" y1="456.5" x2="122.02" y2="486.29" stroke="#fff" stroke-width="0.9"/>
<line x1="122.02" y1="486.29" x2="122.02" y2="517.32" stroke="#fff" stroke-width="0.9"/>
<line x1="278.5" y1="456.5" x2="167.07" y2="394.16" stroke="#fff" stroke-width="0.9"/>
<path d="M446.00,456.50 A167.5,83.5 0 0 1 111.00,456.50" fill="none" stroke="#fff" stroke-width="1.2" opacity="0.95"/>
<path d="M111.00,456.50 A167.5,83.5 0 0 1 446.00,456.50" fill="none" stroke="#fff" stroke-width="0.6" opacity="0.7"/>
<text x="213.90" y="390.90" font-size="9.7" fill="#2b2b2b" textLength="32.60" lengthAdjust="spacingAndGlyphs" stroke="#2b2b2b" stroke-width="0.18">голямо</text>
<text x="195.70" y="404.00" font-size="9.7" fill="#2b2b2b" textLength="68.30" lengthAdjust="spacingAndGlyphs" stroke="#2b2b2b" stroke-width="0.18">(над 250 наети)</text>
<text x="221.60" y="416.40" font-size="9.7" fill="#2b2b2b" textLength="17.90" lengthAdjust="spacingAndGlyphs" stroke="#2b2b2b" stroke-width="0.18">12%</text>
<text x="138.60" y="431.00" font-size="9.7" fill="#2b2b2b" textLength="31.80" lengthAdjust="spacingAndGlyphs" stroke="#2b2b2b" stroke-width="0.18">средно</text>
<text x="122.20" y="444.00" font-size="9.7" fill="#2b2b2b" textLength="64.60" lengthAdjust="spacingAndGlyphs" stroke="#2b2b2b" stroke-width="0.18">(50-249 наети)</text>
<text x="145.60" y="456.70" font-size="9.7" fill="#2b2b2b" textLength="18.20" lengthAdjust="spacingAndGlyphs" stroke="#2b2b2b" stroke-width="0.18">19%</text>
<text x="222.00" y="503.40" font-size="9.7" fill="#2b2b2b" textLength="28.20" lengthAdjust="spacingAndGlyphs" stroke="#2b2b2b" stroke-width="0.18">малко</text>
<text x="206.90" y="516.60" font-size="9.7" fill="#2b2b2b" textLength="58.80" lengthAdjust="spacingAndGlyphs" stroke="#2b2b2b" stroke-width="0.18">(10-49 наети)</text>
<text x="227.50" y="529.30" font-size="9.7" fill="#2b2b2b" textLength="18.50" lengthAdjust="spacingAndGlyphs" stroke="#2b2b2b" stroke-width="0.18">26%</text>
<text x="355.50" y="452.70" font-size="9.7" fill="#f2f6fc" textLength="29.30" lengthAdjust="spacingAndGlyphs" stroke="#f2f6fc" stroke-width="0.18">микро</text>
<text x="343.50" y="465.50" font-size="9.7" fill="#f2f6fc" textLength="52.50" lengthAdjust="spacingAndGlyphs" stroke="#f2f6fc" stroke-width="0.18">(до 9 наети)</text>
<text x="360.70" y="478.10" font-size="9.7" fill="#f2f6fc" textLength="18.90" lengthAdjust="spacingAndGlyphs" stroke="#f2f6fc" stroke-width="0.18">43%</text>
<path d="M1224.00,467.00 A154.5,76 0 0 1 1157.45,529.48 L1157.45,560.23 A152.18,74.86 0 0 0 1221.68,499.14 Z" fill="url(#p2s2)"/>
<path d="M1157.45,529.48 A154.5,76 0 0 1 1069.50,543.00 L1069.50,574.00 A152.18,74.86 0 0 0 1157.45,560.23 Z" fill="url(#p2s3)"/>
<path d="M1069.50,543.00 A154.5,76 0 0 1 971.85,525.90 L971.85,556.56 A152.18,74.86 0 0 0 1069.50,574.00 Z" fill="url(#p2s4)"/>
<path d="M971.85,525.90 A154.5,76 0 0 1 917.84,481.50 L917.84,505.33 A152.18,74.86 0 0 0 971.85,556.56 Z" fill="url(#p2s5)"/>
<path d="M917.84,481.50 A154.5,76 0 0 1 915.00,467.00 L917.32,499.14 A152.18,74.86 0 0 0 917.84,505.33 Z" fill="url(#p2s6)"/>
<path d="M1069.5,467 L1069.50,391.00 A154.5,76 0 0 1 1141.32,399.71 Z" fill="#4472c4"/>
<path d="M1069.5,467 L1141.32,399.71 A154.5,76 0 0 1 1219.79,449.39 Z" fill="#ed7d31"/>
<path d="M1069.5,467 L1219.79,449.39 A154.5,76 0 0 1 1157.45,529.48 Z" fill="#a5a5a5"/>
<path d="M1069.5,467 L1157.45,529.48 A154.5,76 0 0 1 1069.50,543.00 Z" fill="#ffc000"/>
<path d="M1069.5,467 L1069.50,543.00 A154.5,76 0 0 1 971.85,525.90 Z" fill="#5b9bd5"/>
<path d="M1069.5,467 L971.85,525.90 A154.5,76 0 0 1 917.84,481.50 Z" fill="#70ad47"/>
<path d="M1069.5,467 L917.84,481.50 A154.5,76 0 0 1 1069.50,391.00 Z" fill="#264478"/>
<line x1="1069.5" y1="467" x2="1069.50" y2="391.00" stroke="#fff" stroke-width="0.9"/>
<line x1="1069.5" y1="467" x2="1141.32" y2="399.71" stroke="#fff" stroke-width="0.9"/>
<line x1="1069.5" y1="467" x2="1219.79" y2="449.39" stroke="#fff" stroke-width="0.9"/>
<line x1="1069.5" y1="467" x2="1157.45" y2="529.48" stroke="#fff" stroke-width="0.9"/>
<line x1="1157.45" y1="529.48" x2="1157.45" y2="560.23" stroke="#fff" stroke-width="0.9"/>
<line x1="1069.5" y1="467" x2="1069.50" y2="543.00" stroke="#fff" stroke-width="0.9"/>
<line x1="1069.50" y1="543.00" x2="1069.50" y2="574.00" stroke="#fff" stroke-width="0.9"/>
<line x1="1069.5" y1="467" x2="971.85" y2="525.90" stroke="#fff" stroke-width="0.9"/>
<line x1="971.85" y1="525.90" x2="971.85" y2="556.56" stroke="#fff" stroke-width="0.9"/>
<line x1="1069.5" y1="467" x2="917.84" y2="481.50" stroke="#fff" stroke-width="0.9"/>
<line x1="917.84" y1="481.50" x2="917.84" y2="505.33" stroke="#fff" stroke-width="0.9"/>
<path d="M1224.00,467.00 A154.5,76 0 0 1 915.00,467.00" fill="none" stroke="#fff" stroke-width="1.2" opacity="0.95"/>
<path d="M915.00,467.00 A154.5,76 0 0 1 1224.00,467.00" fill="none" stroke="#fff" stroke-width="0.6" opacity="0.7"/>
<text x="1068.20" y="401.20" font-size="9.7" fill="#f2f6fc" textLength="68.40" lengthAdjust="spacingAndGlyphs" stroke="#f2f6fc" stroke-width="0.18">Северозападен</text>
<text x="1095.90" y="413.80" font-size="9.7" fill="#f2f6fc" textLength="13.30" lengthAdjust="spacingAndGlyphs" stroke="#f2f6fc" stroke-width="0.18">8%</text>
<text x="1158.40" y="412.00" font-size="9.7" fill="#2b2b2b" textLength="36.90" lengthAdjust="spacingAndGlyphs" stroke="#2b2b2b" stroke-width="0.18">Северен</text>
<text x="1153.50" y="424.70" font-size="9.7" fill="#2b2b2b" textLength="46.40" lengthAdjust="spacingAndGlyphs" stroke="#2b2b2b" stroke-width="0.18">централен</text>
<text x="1168.30" y="437.70" font-size="9.7" fill="#2b2b2b" textLength="17.60" lengthAdjust="spacingAndGlyphs" stroke="#2b2b2b" stroke-width="0.18">13%</text>
<text x="970.50" y="422.30" font-size="9.7" fill="#f2f6fc" textLength="55.10" lengthAdjust="spacingAndGlyphs" stroke="#f2f6fc" stroke-width="0.18">Национален</text>
<text x="982.40" y="434.90" font-size="9.7" fill="#f2f6fc" textLength="31.00" lengthAdjust="spacingAndGlyphs" stroke="#f2f6fc" stroke-width="0.18">мащаб</text>
<text x="988.75" y="448.00" font-size="9.7" fill="#f2f6fc" textLength="18.55" lengthAdjust="spacingAndGlyphs" stroke="#f2f6fc" stroke-width="0.18">28%</text>
<text x="936.70" y="497.50" font-size="9.7" fill="#2b2b2b" textLength="53.10" lengthAdjust="spacingAndGlyphs" stroke="#2b2b2b" stroke-width="0.18">Югоизточен</text>
<text x="954.60" y="510.50" font-size="9.7" fill="#2b2b2b" textLength="18.10" lengthAdjust="spacingAndGlyphs" stroke="#2b2b2b" stroke-width="0.18">11%</text>
<text x="1025.70" y="509.00" font-size="9.7" fill="#2b2b2b" textLength="26.40" lengthAdjust="spacingAndGlyphs" stroke="#2b2b2b" stroke-width="0.18">Южен</text>
<text x="1016.20" y="522.00" font-size="9.7" fill="#2b2b2b" textLength="46.20" lengthAdjust="spacingAndGlyphs" stroke="#2b2b2b" stroke-width="0.18">централен</text>
<text x="1030.70" y="535.00" font-size="9.7" fill="#2b2b2b" textLength="17.60" lengthAdjust="spacingAndGlyphs" stroke="#2b2b2b" stroke-width="0.18">11%</text>
<text x="1144.00" y="486.25" font-size="9.7" fill="#2b2b2b" textLength="66.40" lengthAdjust="spacingAndGlyphs" stroke="#2b2b2b" stroke-width="0.18">Североизточен</text>
<text x="1168.30" y="499.00" font-size="9.7" fill="#2b2b2b" textLength="18.20" lengthAdjust="spacingAndGlyphs" stroke="#2b2b2b" stroke-width="0.18">19%</text>
<text x="1072.10" y="521.70" font-size="9.7" fill="#2b2b2b" textLength="55.60" lengthAdjust="spacingAndGlyphs" stroke="#2b2b2b" stroke-width="0.18">Югозападен</text>
<text x="1091.25" y="534.20" font-size="9.7" fill="#2b2b2b" textLength="18.15" lengthAdjust="spacingAndGlyphs" stroke="#2b2b2b" stroke-width="0.18">10%</text>
<line x1="667" y1="347" x2="667" y2="603.5" stroke="#d9d9d9" stroke-width="1"/>
<rect x="667.6" y="352.70" width="153.00" height="6.4" fill="#4472c4"/>
<text x="625.20" y="358.80" font-size="9.7" fill="#303030" textLength="29.50" lengthAdjust="spacingAndGlyphs" stroke="#303030" stroke-width="0.18">Услуги</text>
<text x="827.60" y="358.80" font-size="9.7" fill="#303030" textLength="18.90" lengthAdjust="spacingAndGlyphs" stroke="#303030" stroke-width="0.18">20%</text>
<rect x="667.6" y="371.15" width="147.60" height="6.4" fill="#4472c4"/>
<text x="518.70" y="377.25" font-size="9.7" fill="#303030" textLength="145.55" lengthAdjust="spacingAndGlyphs" stroke="#303030" stroke-width="0.18">Преработваща промишленост;…</text>
<text x="822.30" y="377.25" font-size="9.7" fill="#303030" textLength="18.90" lengthAdjust="spacingAndGlyphs" stroke="#303030" stroke-width="0.18">19%</text>
<rect x="667.6" y="389.60" width="138.20" height="6.4" fill="#4472c4"/>
<text x="613.60" y="395.70" font-size="9.7" fill="#303030" textLength="40.70" lengthAdjust="spacingAndGlyphs" stroke="#303030" stroke-width="0.18">Търговия</text>
<text x="812.80" y="395.70" font-size="9.7" fill="#303030" textLength="18.90" lengthAdjust="spacingAndGlyphs" stroke="#303030" stroke-width="0.18">18%</text>
<rect x="667.6" y="408.05" width="73.80" height="6.4" fill="#4472c4"/>
<text x="508.20" y="414.15" font-size="9.7" fill="#303030" textLength="156.05" lengthAdjust="spacingAndGlyphs" stroke="#303030" stroke-width="0.18">Хотелиерство, ресторантьорство,…</text>
<text x="748.40" y="414.15" font-size="9.7" fill="#303030" textLength="18.90" lengthAdjust="spacingAndGlyphs" stroke="#303030" stroke-width="0.18">10%</text>
<rect x="667.6" y="426.50" width="63.60" height="6.4" fill="#4472c4"/>
<text x="556.00" y="432.60" font-size="9.7" fill="#303030" textLength="98.30" lengthAdjust="spacingAndGlyphs" stroke="#303030" stroke-width="0.18">Строителство и имоти</text>
<text x="737.60" y="432.60" font-size="9.7" fill="#303030" textLength="13.40" lengthAdjust="spacingAndGlyphs" stroke="#303030" stroke-width="0.18">8%</text>
<rect x="667.6" y="444.95" width="39.10" height="6.4" fill="#4472c4"/>
<text x="595.60" y="451.05" font-size="9.7" fill="#303030" textLength="59.10" lengthAdjust="spacingAndGlyphs" stroke="#303030" stroke-width="0.18">Образование</text>
<text x="712.90" y="451.05" font-size="9.7" fill="#303030" textLength="13.50" lengthAdjust="spacingAndGlyphs" stroke="#303030" stroke-width="0.18">5%</text>
<rect x="667.6" y="463.40" width="28.80" height="6.4" fill="#4472c4"/>
<text x="553.40" y="469.50" font-size="9.7" fill="#303030" textLength="101.30" lengthAdjust="spacingAndGlyphs" stroke="#303030" stroke-width="0.18">Транспорт и логистика</text>
<text x="702.60" y="469.50" font-size="9.7" fill="#303030" textLength="13.40" lengthAdjust="spacingAndGlyphs" stroke="#303030" stroke-width="0.18">4%</text>
<rect x="667.6" y="481.85" width="24.20" height="6.4" fill="#4472c4"/>
<text x="563.30" y="487.95" font-size="9.7" fill="#303030" textLength="93.70" lengthAdjust="spacingAndGlyphs" stroke="#303030" stroke-width="0.18">НПО (браншова орг.)</text>
<text x="698.00" y="487.95" font-size="9.7" fill="#303030" textLength="13.50" lengthAdjust="spacingAndGlyphs" stroke="#303030" stroke-width="0.18">3%</text>
<rect x="667.6" y="500.30" width="19.40" height="6.4" fill="#4472c4"/>
<text x="547.80" y="506.40" font-size="9.7" fill="#303030" textLength="109.20" lengthAdjust="spacingAndGlyphs" stroke="#303030" stroke-width="0.18">Добивна промишленост</text>
<text x="693.20" y="506.40" font-size="9.7" fill="#303030" textLength="13.50" lengthAdjust="spacingAndGlyphs" stroke="#303030" stroke-width="0.18">3%</text>
<rect x="667.6" y="518.75" width="19.40" height="6.4" fill="#4472c4"/>
<text x="571.70" y="524.85" font-size="9.7" fill="#303030" textLength="82.40" lengthAdjust="spacingAndGlyphs" stroke="#303030" stroke-width="0.18">Селско стопанство</text>
<text x="693.20" y="524.85" font-size="9.7" fill="#303030" textLength="13.50" lengthAdjust="spacingAndGlyphs" stroke="#303030" stroke-width="0.18">3%</text>
<rect x="667.6" y="537.20" width="14.40" height="6.4" fill="#4472c4"/>
<text x="580.70" y="543.30" font-size="9.7" fill="#303030" textLength="76.30" lengthAdjust="spacingAndGlyphs" stroke="#303030" stroke-width="0.18">Финансов сектор</text>
<text x="688.20" y="543.30" font-size="9.7" fill="#303030" textLength="13.50" lengthAdjust="spacingAndGlyphs" stroke="#303030" stroke-width="0.18">2%</text>
<rect x="667.6" y="555.65" width="14.40" height="6.4" fill="#4472c4"/>
<text x="585.20" y="561.75" font-size="9.7" fill="#303030" textLength="71.80" lengthAdjust="spacingAndGlyphs" stroke="#303030" stroke-width="0.18">Енергетика; ВиК</text>
<text x="688.20" y="561.75" font-size="9.7" fill="#303030" textLength="13.50" lengthAdjust="spacingAndGlyphs" stroke="#303030" stroke-width="0.18">2%</text>
<rect x="667.6" y="574.10" width="14.40" height="6.4" fill="#4472c4"/>
<text x="581.60" y="580.20" font-size="9.7" fill="#303030" textLength="73.10" lengthAdjust="spacingAndGlyphs" stroke="#303030" stroke-width="0.18">Здравеопазване</text>
<text x="688.20" y="580.20" font-size="9.7" fill="#303030" textLength="13.50" lengthAdjust="spacingAndGlyphs" stroke="#303030" stroke-width="0.18">2%</text>
<rect x="667.6" y="592.55" width="4.20" height="6.4" fill="#4472c4"/>
<text x="619.50" y="598.65" font-size="9.7" fill="#303030" textLength="35.20" lengthAdjust="spacingAndGlyphs" stroke="#303030" stroke-width="0.18">Култура</text>
<text x="680.00" y="598.65" font-size="9.7" fill="#303030" textLength="12.00" lengthAdjust="spacingAndGlyphs" stroke="#303030" stroke-width="0.18">1%</text>
</svg>
<svg style="position:absolute;left:0;top:0" width="1280" height="720" viewBox="0 0 1280 720">
<text transform="translate(41.1,698.2) rotate(-90)" font-family='"Liberation Sans", sans-serif' font-size="18.6" fill="#ffffff" textLength="140.3" lengthAdjust="spacingAndGlyphs">www.bia-bg.com</text>
<g transform="translate(104.5,131)"><polygon points="0,-6.1 5.5,-3 5.5,3 0,6.1 -5.5,3 -5.5,-3" fill="#17507b"/><path d="M0,-5 Q0.8,0.2 4.6,2.6 Q0,1.2 -4.6,2.6 Q-0.8,0.2 0,-5 Z" fill="#d4f0ff"/><circle cx="0" cy="0.3" r="1.2" fill="#17507b"/></g>
<g transform="translate(104.5,170)"><polygon points="0,-6.1 5.5,-3 5.5,3 0,6.1 -5.5,3 -5.5,-3" fill="#17507b"/><path d="M0,-5 Q0.8,0.2 4.6,2.6 Q0,1.2 -4.6,2.6 Q-0.8,0.2 0,-5 Z" fill="#d4f0ff"/><circle cx="0" cy="0.3" r="1.2" fill="#17507b"/></g>
<g transform="translate(104.5,209.2)"><polygon points="0,-6.1 5.5,-3 5.5,3 0,6.1 -5.5,3 -5.5,-3" fill="#17507b"/><path d="M0,-5 Q0.8,0.2 4.6,2.6 Q0,1.2 -4.6,2.6 Q-0.8,0.2 0,-5 Z" fill="#d4f0ff"/><circle cx="0" cy="0.3" r="1.2" fill="#17507b"/></g>
</svg>
</body></html>
